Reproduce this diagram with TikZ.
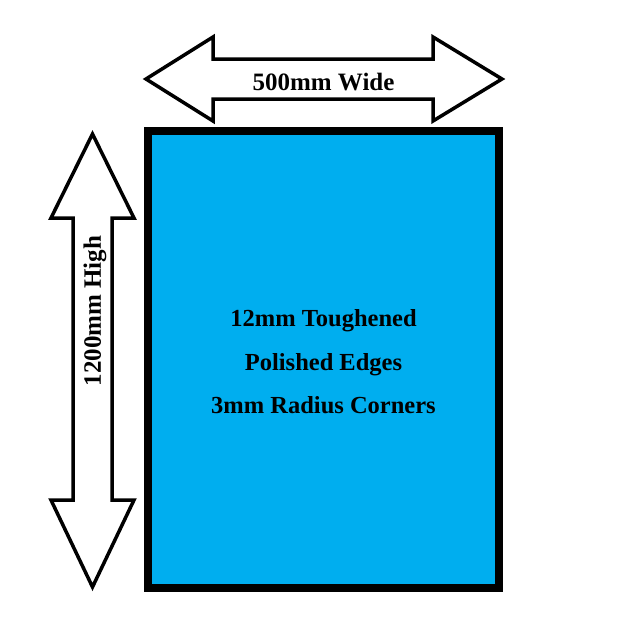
\documentclass[tikz,border=0pt]{standalone}
\usepackage{fontspec}
\setmainfont{Liberation Serif}
\definecolor{panelblue}{RGB}{0,174,239}
\begin{document}
\begin{tikzpicture}[x=1pt,y=-1pt,
    lbl/.style={font=\fontsize{25}{25}\selectfont\bfseries},
    dimarrow/.style={draw=black,line width=3.5pt,fill=white,line join=miter}]
  \useasboundingbox (0,0) rectangle (623,624);

  % glass panel
  \node [draw,line width=8pt,fill=panelblue,minimum width=351pt,minimum height=457pt,
    inner sep=0pt] (panel) at (323.5,359.5) {};
  \node [align=center,font=\fontsize{24.5}{43.5}\selectfont\bfseries,yshift=-2.5pt] (notes) at (panel.center)
    {12mm Toughened\\Polished Edges\\3mm Radius Corners};

  % width arrow
  \draw[dimarrow] (146,79) -- (213,37) -- (213,59) -- (433,59) -- (433,37) -- (502,79)
    -- (433,121) -- (433,99) -- (213,99) -- (213,121) -- cycle;
  \node [lbl] (wide) at (323.5,82) {500mm Wide};

  % height arrow
  \draw[dimarrow] (92.5,134) -- (134,218) -- (112,218) -- (112,500) -- (134,500) -- (92.5,587)
    -- (51,500) -- (73,500) -- (73,218) -- (51,218) -- cycle;
  \node [lbl,rotate=90] (high) at (95,311) {1200mm High};
\end{tikzpicture}
\end{document}
